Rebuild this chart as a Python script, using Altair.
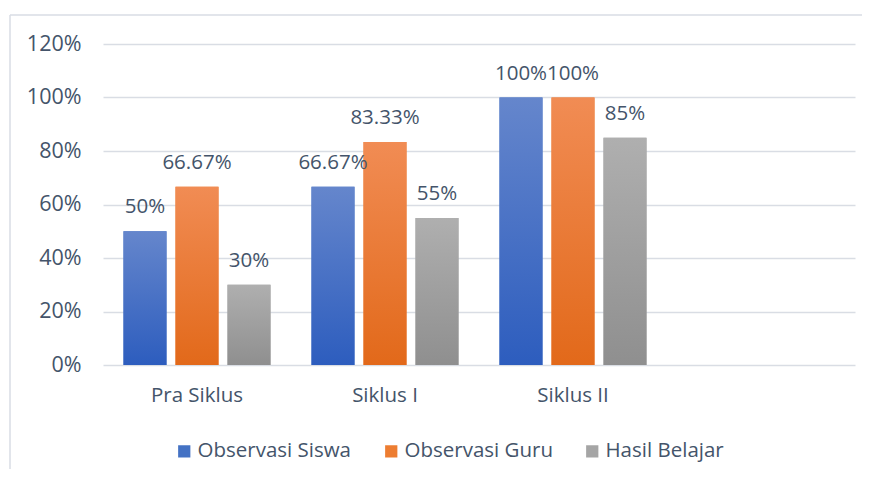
import altair as alt
import pandas as pd

categories = ["Pra Siklus", "Siklus I", "Siklus II"]
axis_domain = categories + [" "]
series = ["Observasi Siswa", "Observasi Guru", "Hasil Belajar"]
observasi_siswa = [50, 66.67, 100]
observasi_guru = [66.67, 83.33, 100]
hasil_belajar = [30, 55, 85]
y_ticks = [0, 20, 40, 60, 80, 100, 120]

solid_colors = ["#4472C4", "#ED7D31", "#A5A5A5"]
gradients = {
    "Observasi Siswa": ("#6586CC", "#2D5DBE"),
    "Observasi Guru": ("#F18C54", "#E2691A"),
    "Hasil Belajar": ("#AFAFAF", "#8F8F8F"),
}

rows = []
for s, vals in zip(series, [observasi_siswa, observasi_guru, hasil_belajar]):
    for c, v in zip(categories, vals):
        rows.append({"cat": c, "series": s, "value": v})
df = pd.DataFrame(rows)

FONT = "Open Sans"
TXT = "#44546A"
GRID = "#D9DDE4"

x_enc = alt.X("cat:N", scale=alt.Scale(domain=axis_domain, paddingInner=0.218, paddingOuter=0.109),
              sort=axis_domain,
              axis=alt.Axis(title=None, labelAngle=0, domain=False, ticks=False, labelPadding=20,
                            labelFont=FONT, labelFontSize=20.5, labelColor=TXT))
xo_enc = alt.XOffset("series:N", scale=alt.Scale(domain=series, paddingInner=0.173, paddingOuter=0))
y_enc = alt.Y("value:Q", scale=alt.Scale(domain=[0, 120], nice=False),
              axis=alt.Axis(title=None, values=y_ticks, labelExpr="datum.value + '%'",
                            domain=False, ticks=False, labelPadding=22, grid=True,
                            gridColor=GRID, gridWidth=1.5,
                            labelFont=FONT, labelFontSize=21.5, labelColor=TXT))

base = alt.Chart(df).mark_bar().encode(
    x=x_enc, xOffset=xo_enc, y=y_enc,
    color=alt.Color("series:N", scale=alt.Scale(domain=series, range=solid_colors),
                    legend=alt.Legend(title=None, orient="none", direction="horizontal",
                                      legendX=71, legendY=397, symbolType="square",
                                      symbolSize=150, symbolStrokeWidth=0,
                                      labelFont=FONT, labelFontSize=20.5, labelColor=TXT,
                                      labelOffset=3, columnPadding=29)),
)

layers = [base]
for s in series:
    top, bot = gradients[s]
    grad = alt.LinearGradient(gradient="linear", x1=0, y1=0, x2=0, y2=1,
                              stops=[alt.GradientStop(color=top, offset=0),
                                     alt.GradientStop(color=bot, offset=1)])
    layers.append(
        alt.Chart(df).transform_filter(alt.datum.series == s)
        .mark_bar(fill=grad)
        .encode(x=x_enc, xOffset=xo_enc, y=y_enc)
    )

labels = alt.Chart(df).transform_calculate(lbl="datum.value + '%'").mark_text(
    font=FONT, fontSize=20.5, color=TXT, baseline="alphabetic", dy=-18
).encode(x=x_enc, xOffset=xo_enc, y=y_enc, text="lbl:N")
layers.append(labels)

frame_df = pd.DataFrame({"k": [0]})
frame_left = alt.Chart(frame_df).mark_rule(color=GRID, strokeWidth=1.5).encode(
    x=alt.value(-93), y=alt.value(-29), y2=alt.value(500))
frame_top = alt.Chart(frame_df).mark_rule(color=GRID, strokeWidth=1.5).encode(
    x=alt.value(-93), x2=alt.value(900), y=alt.value(-29))
layers += [frame_left, frame_top]

chart = alt.layer(*layers).properties(
    width=752, height=321,
    autosize=alt.AutoSizeParams(type="none"),
    padding={"left": 95, "top": 36, "right": 7, "bottom": 104},
).configure(background="white", view=alt.ViewConfig(stroke=None))

chart.save("out.html", embed_options={"renderer": "svg", "actions": False})
